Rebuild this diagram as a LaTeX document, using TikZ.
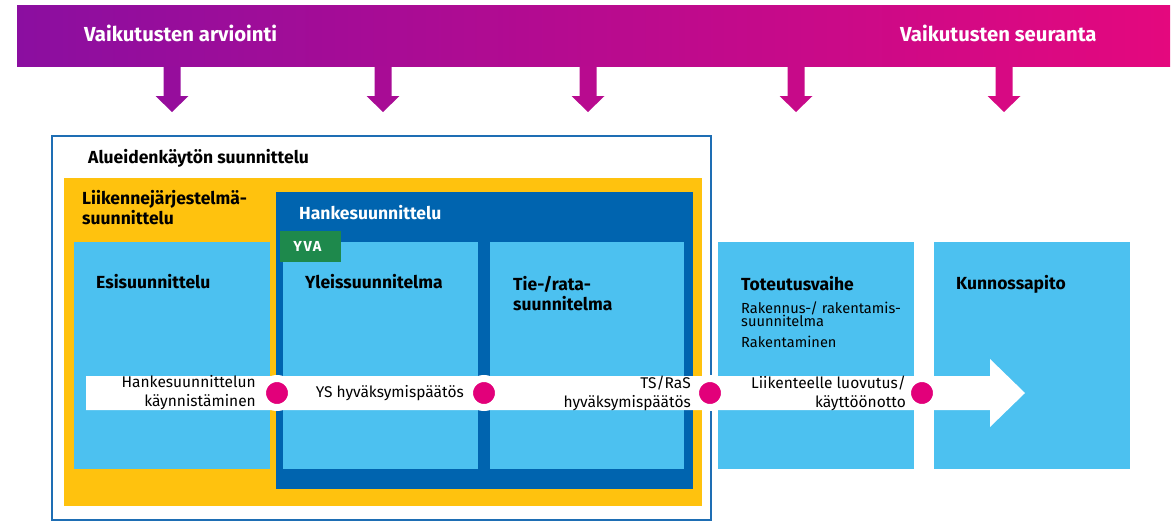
\documentclass[tikz,border=0pt]{standalone}
\usepackage{fontspec}
\setmainfont{Fira Sans}
\definecolor{arvpurple}{RGB}{139,14,160}
\definecolor{arvpink}{RGB}{228,8,126}
\definecolor{phaseblue}{RGB}{76,193,240}
\definecolor{projblue}{RGB}{0,100,175}
\definecolor{frameblue}{RGB}{30,110,180}
\definecolor{planyellow}{RGB}{255,194,14}
\definecolor{yvagreen}{RGB}{30,137,76}
\definecolor{dotpink}{RGB}{226,0,122}
\begin{document}
\begin{tikzpicture}[x=1pt,y=-1pt,
		area/.style={inner sep=0pt,outer sep=0pt,anchor=north west},
		phase/.style={area,fill=phaseblue,minimum height=227pt},
		heading/.style={anchor=west,inner sep=0pt,font=\bfseries\fontsize{17.5}{20}\selectfont,align=left},
		bartext/.style={anchor=west,inner sep=0pt,text=white,font=\bfseries\fontsize{20.3}{22}\selectfont},
		milestone/.style={anchor=east,inner sep=0pt,font=\fontsize{15.5}{19}\selectfont,align=right},
		subtext/.style={anchor=west,inner sep=0pt,font=\fontsize{14.6}{13}\selectfont,align=left},
		dot/.style={circle,fill=dotpink,draw=white,line width=7pt,minimum size=29pt,inner sep=0pt}]
			\useasboundingbox (0,0) rectangle (1175,522);
			% top bar and arrows
			\node[area,left color=arvpurple,right color=arvpink,minimum width=1153pt,minimum height=61pt] (bar) at (17,5) {};
			\node[bartext] (arv) at (84,33) {Vaikutusten arviointi};
			\node[bartext] (seur) at (900,33) {Vaikutusten seuranta};
			\foreach \x/\p in {172/13,383/32,588/50,796/68,1004/86}
				\fill[arvpink!\p!arvpurple] (\x-8.5,66) -- (\x+8.5,66) -- (\x+8.5,96) -- (\x+16.5,96) -- (\x,112) -- (\x-16.5,96) -- (\x-8.5,96) -- cycle;
			% planning areas
			\node[area,draw=frameblue,line width=1.5pt,minimum width=659pt,minimum height=384pt] (alue) at (52,136) {};
			\node[heading] (aluet) at (88,158) {Alueidenkäytön suunnittelu};
			\node[area,fill=planyellow,minimum width=638pt,minimum height=328pt] (ljs) at (64,178) {};
			\node[heading] (ljst) at (82,208) {Liikennejärjestelmä-\\suunnittelu};
			\node[area,fill=projblue,minimum width=417pt,minimum height=297pt] (hanke) at (276,192) {};
			\node[heading,text=white] (hanket) at (299,213) {Hankesuunnittelu};
			% phases
			\node[phase,minimum width=196pt] (esi) at (74,242) {};
			\node[phase,minimum width=195pt] (ys) at (283,242) {};
			\node[phase,minimum width=194pt] (ts) at (490,242) {};
			\node[phase,minimum width=196pt] (tot) at (718,242) {};
			\node[phase,minimum width=196pt] (kunn) at (934,242) {};
			\node[area,fill=yvagreen,minimum width=61pt,minimum height=31pt] (yva) at (280,231) {};
			\node[text=white,font=\bfseries\fontsize{14.5}{18}\selectfont\addfontfeature{LetterSpace=10}] (yvat) at ([xshift=-3pt]yva.center) {YVA};
			\node[heading] (esit) at ([shift={(22,40)}]esi.north west) {Esisuunnittelu};
			\node[heading] (yst) at ([shift={(22,40)}]ys.north west) {Yleissuunnitelma};
			\node[heading] (tst) at ([shift={(23,52)}]ts.north west) {Tie-/rata-\\suunnitelma};
			\node[heading] (tott) at ([shift={(23,42)}]tot.north west) {Toteutusvaihe};
			\node[subtext] (rsu) at ([shift={(23,72)}]tot.north west) {Rakennus-/ rakentamis-\\suunnitelma};
			\node[subtext] (rak) at ([shift={(23,100)}]tot.north west) {Rakentaminen};
			\node[heading] (kunnt) at ([shift={(22,42)}]kunn.north west) {Kunnossapito};
			% timeline
			\fill[white] (86,376) -- (990,376) -- (990,359) -- (1025,393) -- (990,427) -- (990,410) -- (86,410) -- cycle;
			\node[dot] (m1) at (277,393) {};
			\node[dot] (m2) at (484,393) {};
			\node[dot] (m3) at (710,393) {};
			\node[dot] (m4) at (922,393) {};
			\node[milestone] (m1t) at ([xshift=-21pt]m1.center) {Hankesuunnittelun\\käynnistäminen};
			\node[milestone] (m2t) at ([xshift=-20pt]m2.center) {YS hyväksymispäätös};
			\node[milestone] (m3t) at ([xshift=-19pt]m3.center) {TS/RaS\\hyväksymispäätös};
			\node[milestone] (m4t) at ([xshift=-16pt]m4.center) {Liikenteelle luovutus/\\käyttöönotto};
		\end{tikzpicture}
\end{document}
